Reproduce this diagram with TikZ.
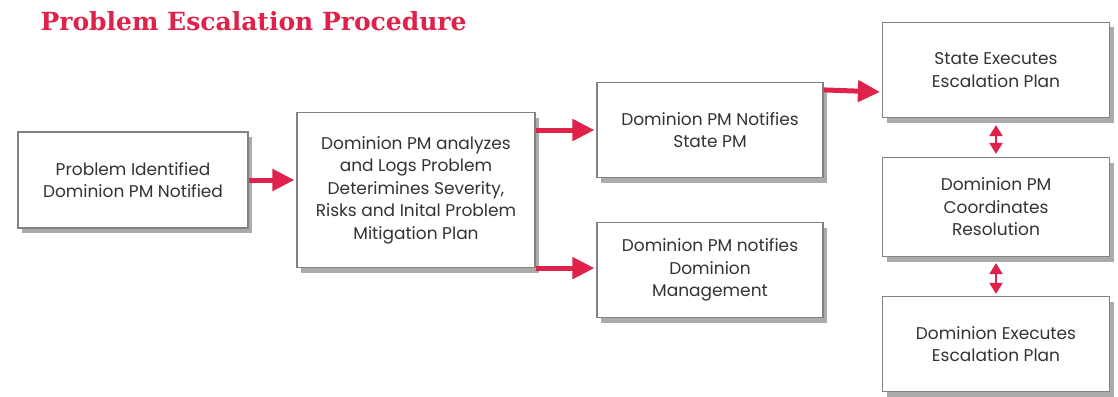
\documentclass[tikz,border=0pt]{standalone}
\usepackage{fontspec}
\setmainfont{Poppins}
\newfontfamily\titlefont{DejaVu Serif}
\usetikzlibrary{arrows.meta,shadows}
\definecolor{escred}{RGB}{222,34,74}
\definecolor{boxline}{RGB}{130,130,130}
\tikzset{
  stepbox/.style={draw=boxline,fill=white,line width=1.2pt,align=center,inner sep=2pt,text=black!80,
    drop shadow={shadow xshift=4pt,shadow yshift=-5pt,fill=black!60,opacity=0.55},
    font=\fontsize{17}{22.5}\selectfont},
  redarrow/.style={draw=escred,line width=5pt,shorten >=2pt,-{Triangle[length=22pt,width=21pt]}},
  twoway/.style={draw=escred,line width=2pt,{Triangle[length=11pt,width=13pt]}-{Triangle[length=11pt,width=13pt]}}
}
\begin{document}
\begin{tikzpicture}[x=1pt,y=-1pt]
\useasboundingbox (0,0) rectangle (1118,396);
\node [anchor=west,text=escred,font=\titlefont\bfseries\fontsize{25}{28}\selectfont] (title) at (37,21) {Problem Escalation Procedure};
\begin{scope}[every node/.style={stepbox}]
\node [minimum width=230pt,minimum height=96pt] (found) at (133,180) {Problem Identified\\Dominion PM Notified};
\node [minimum width=238pt,minimum height=155pt] (analyze) at (416,190) {Dominion PM analyzes\\and Logs Problem\\Deterimines Severity,\\Risks and Inital Problem\\Mitigation Plan};
\node [minimum width=226pt,minimum height=95pt] (statepm) at (710,130) {Dominion PM Notifies\\State PM};
\node [minimum width=226pt,minimum height=95pt] (mgmt) at (710,270) {Dominion PM notifies\\Dominion\\Management};
\node [minimum width=227pt,minimum height=95pt] (stateplan) at (996,70) {State Executes\\Escalation Plan};
\node [minimum width=227pt,minimum height=99pt] (coord) at (996,207) {Dominion PM\\Coordinates\\Resolution};
\node [minimum width=227pt,minimum height=95pt] (domplan) at (996,344) {Dominion Executes\\Escalation Plan};
\end{scope}
\draw [redarrow] (found.east) -- (found.east -| analyze.west);
\draw [redarrow] (analyze.east |- statepm.west) -- (statepm.west);
\draw [redarrow] (analyze.south east) -- (analyze.south east -| mgmt.west);
\draw [redarrow] ([yshift=-8pt]statepm.north east) -- ([yshift=-22pt]stateplan.west);
\draw [twoway,shorten <=7pt,shorten >=3pt] (stateplan.south) -- (coord.north);
\draw [twoway,shorten <=6pt,shorten >=2pt] (coord.south) -- (domplan.north);
\end{tikzpicture}
\end{document}
